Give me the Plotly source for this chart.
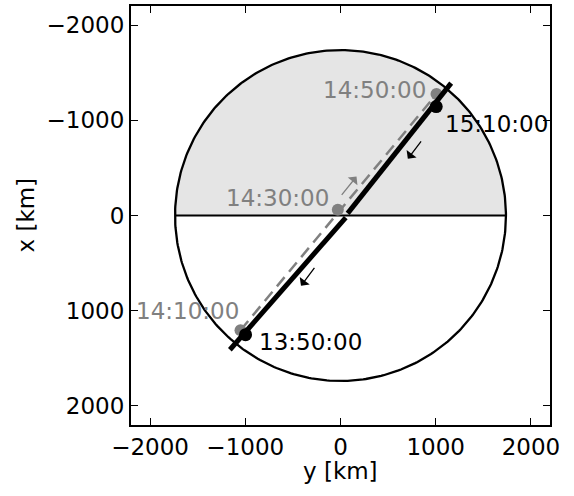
import numpy as np
import plotly.graph_objects as go

# ---- data (km) ----
moon_radius = 1737.4

# black track (y, x) with a small break at the terminator line
track_y = [-1162, 55, None, 75, 1162]
track_x = [1410, 22, None, -22, -1390]

# grey dashed track
dash_y = [-1050, 1008]
dash_x = [1205, -1275]

# time markers
black_times = ["13:50:00", "15:10:00"]
black_pts_y = [-997, 1005]
black_pts_x = [1252, -1144]

grey_times = ["14:10:00", "14:30:00", "14:50:00"]
grey_pts_y = [-1050, -28, 1008]
grey_pts_x = [1205, -60, -1275]

# direction arrows: (tail_y, tail_x) -> (head_y, head_x)
black_arrow_tail_y = [858, -262]
black_arrow_tail_x = [-795, 535]
black_arrow_head_y = [707, -415]
black_arrow_head_x = [-595, 738]

grey_arrow_tail_y = [0]
grey_arrow_tail_x = [-200]
grey_arrow_head_y = [168]
grey_arrow_head_x = [-409]

tick_vals = [-2000, -1000, 0, 1000, 2000]
x_title = "y [km]"
y_title = "x [km]"

FONT = "DejaVu Sans"
FS = 23
GREY = "#808080"

fig = go.Figure()

# shaded upper half-disk
th = np.linspace(0, np.pi, 200)
fig.add_trace(go.Scatter(
    x=moon_radius * np.cos(th), y=-moon_radius * np.sin(th),
    mode="lines", fill="toself", fillcolor="#e5e5e5",
    line=dict(width=0), hoverinfo="skip", showlegend=False))

# circle outline
th2 = np.linspace(0, 2 * np.pi, 400)
fig.add_trace(go.Scatter(
    x=moon_radius * np.cos(th2), y=moon_radius * np.sin(th2),
    mode="lines", line=dict(color="black", width=2.3),
    hoverinfo="skip", showlegend=False))

# terminator line
fig.add_trace(go.Scatter(
    x=[-moon_radius, moon_radius], y=[0, 0], mode="lines",
    line=dict(color="black", width=2), showlegend=False))

# grey dashed track
fig.add_trace(go.Scatter(
    x=dash_y, y=dash_x, mode="lines",
    line=dict(color=GREY, width=2.5, dash="12px,7px"), showlegend=False))

# grey points
fig.add_trace(go.Scatter(
    x=grey_pts_y, y=grey_pts_x, mode="markers",
    marker=dict(color=GREY, size=12), showlegend=False))

# black track
fig.add_trace(go.Scatter(
    x=track_y, y=track_x, mode="lines", connectgaps=False,
    line=dict(color="black", width=5), showlegend=False))

# black points
fig.add_trace(go.Scatter(
    x=black_pts_y, y=black_pts_x, mode="markers",
    marker=dict(color="black", size=13), showlegend=False))

annotations = []
# time labels (pixel offsets from their points)
grey_offsets = [(0, 19, "right"), (-7, 12, "right"), (-8, 4, "right")]
for t, yy, xx, (dx, dy, anc) in zip(grey_times, grey_pts_y, grey_pts_x, grey_offsets):
    annotations.append(dict(x=yy, y=xx, text=t, showarrow=False, xanchor=anc,
                            yanchor="middle", xshift=dx, yshift=dy,
                            font=dict(family=FONT, size=FS, color=GREY)))
black_offsets = [(11, -7, "left"), (7, -17, "left")]
for t, yy, xx, (dx, dy, anc) in zip(black_times, black_pts_y, black_pts_x, black_offsets):
    annotations.append(dict(x=yy, y=xx, text=t, showarrow=False, xanchor=anc,
                            yanchor="middle", xshift=dx, yshift=dy,
                            font=dict(family=FONT, size=FS, color="black")))

# arrows
for ty, tx, hy, hx in zip(black_arrow_tail_y, black_arrow_tail_x,
                          black_arrow_head_y, black_arrow_head_x):
    annotations.append(dict(x=hy, y=hx, ax=ty, ay=tx, axref="x", ayref="y",
                            xref="x", yref="y", text="", showarrow=True,
                            arrowhead=1, arrowsize=1.6, arrowwidth=1.3,
                            arrowcolor="black", standoff=0))
for ty, tx, hy, hx in zip(grey_arrow_tail_y, grey_arrow_tail_x,
                          grey_arrow_head_y, grey_arrow_head_x):
    annotations.append(dict(x=hy, y=hx, ax=ty, ay=tx, axref="x", ayref="y",
                            xref="x", yref="y", text="", showarrow=True,
                            arrowhead=1, arrowsize=1.6, arrowwidth=1.3,
                            arrowcolor=GREY, standoff=0))

# axis titles
annotations.append(dict(xref="paper", yref="paper", x=0.5, y=0, text=x_title,
                        showarrow=False, xanchor="center", yanchor="top",
                        yshift=-32, borderpad=0,
                        font=dict(family=FONT, size=FS, color="black")))
annotations.append(dict(xref="paper", yref="paper", x=0, y=0.5, text=y_title,
                        showarrow=False, xanchor="center", yanchor="middle",
                        textangle=-90, xshift=-106,
                        font=dict(family=FONT, size=FS, color="black")))

axis_common = dict(
    showgrid=False, zeroline=False, showline=True, linewidth=2, linecolor="black",
    mirror="ticks", ticks="inside", ticklen=7, tickwidth=1, tickcolor="black",
    tickvals=tick_vals, tickfont=dict(family=FONT, size=FS, color="black"),
    automargin=False,
)

fig.update_layout(
    width=574, height=496,
    margin=dict(l=131, r=24, t=6, b=71),
    paper_bgcolor="white", plot_bgcolor="white",
    font=dict(family=FONT, size=FS, color="black"),
    showlegend=False,
    annotations=annotations,
    xaxis=dict(range=[-2200, 2200], **axis_common),
    yaxis=dict(range=[2200, -2200], **axis_common),
)

fig.write_html("out.html",
               config={"displayModeBar": False},
               post_script="document.body.style.margin='0';document.body.style.overflow='hidden';")
